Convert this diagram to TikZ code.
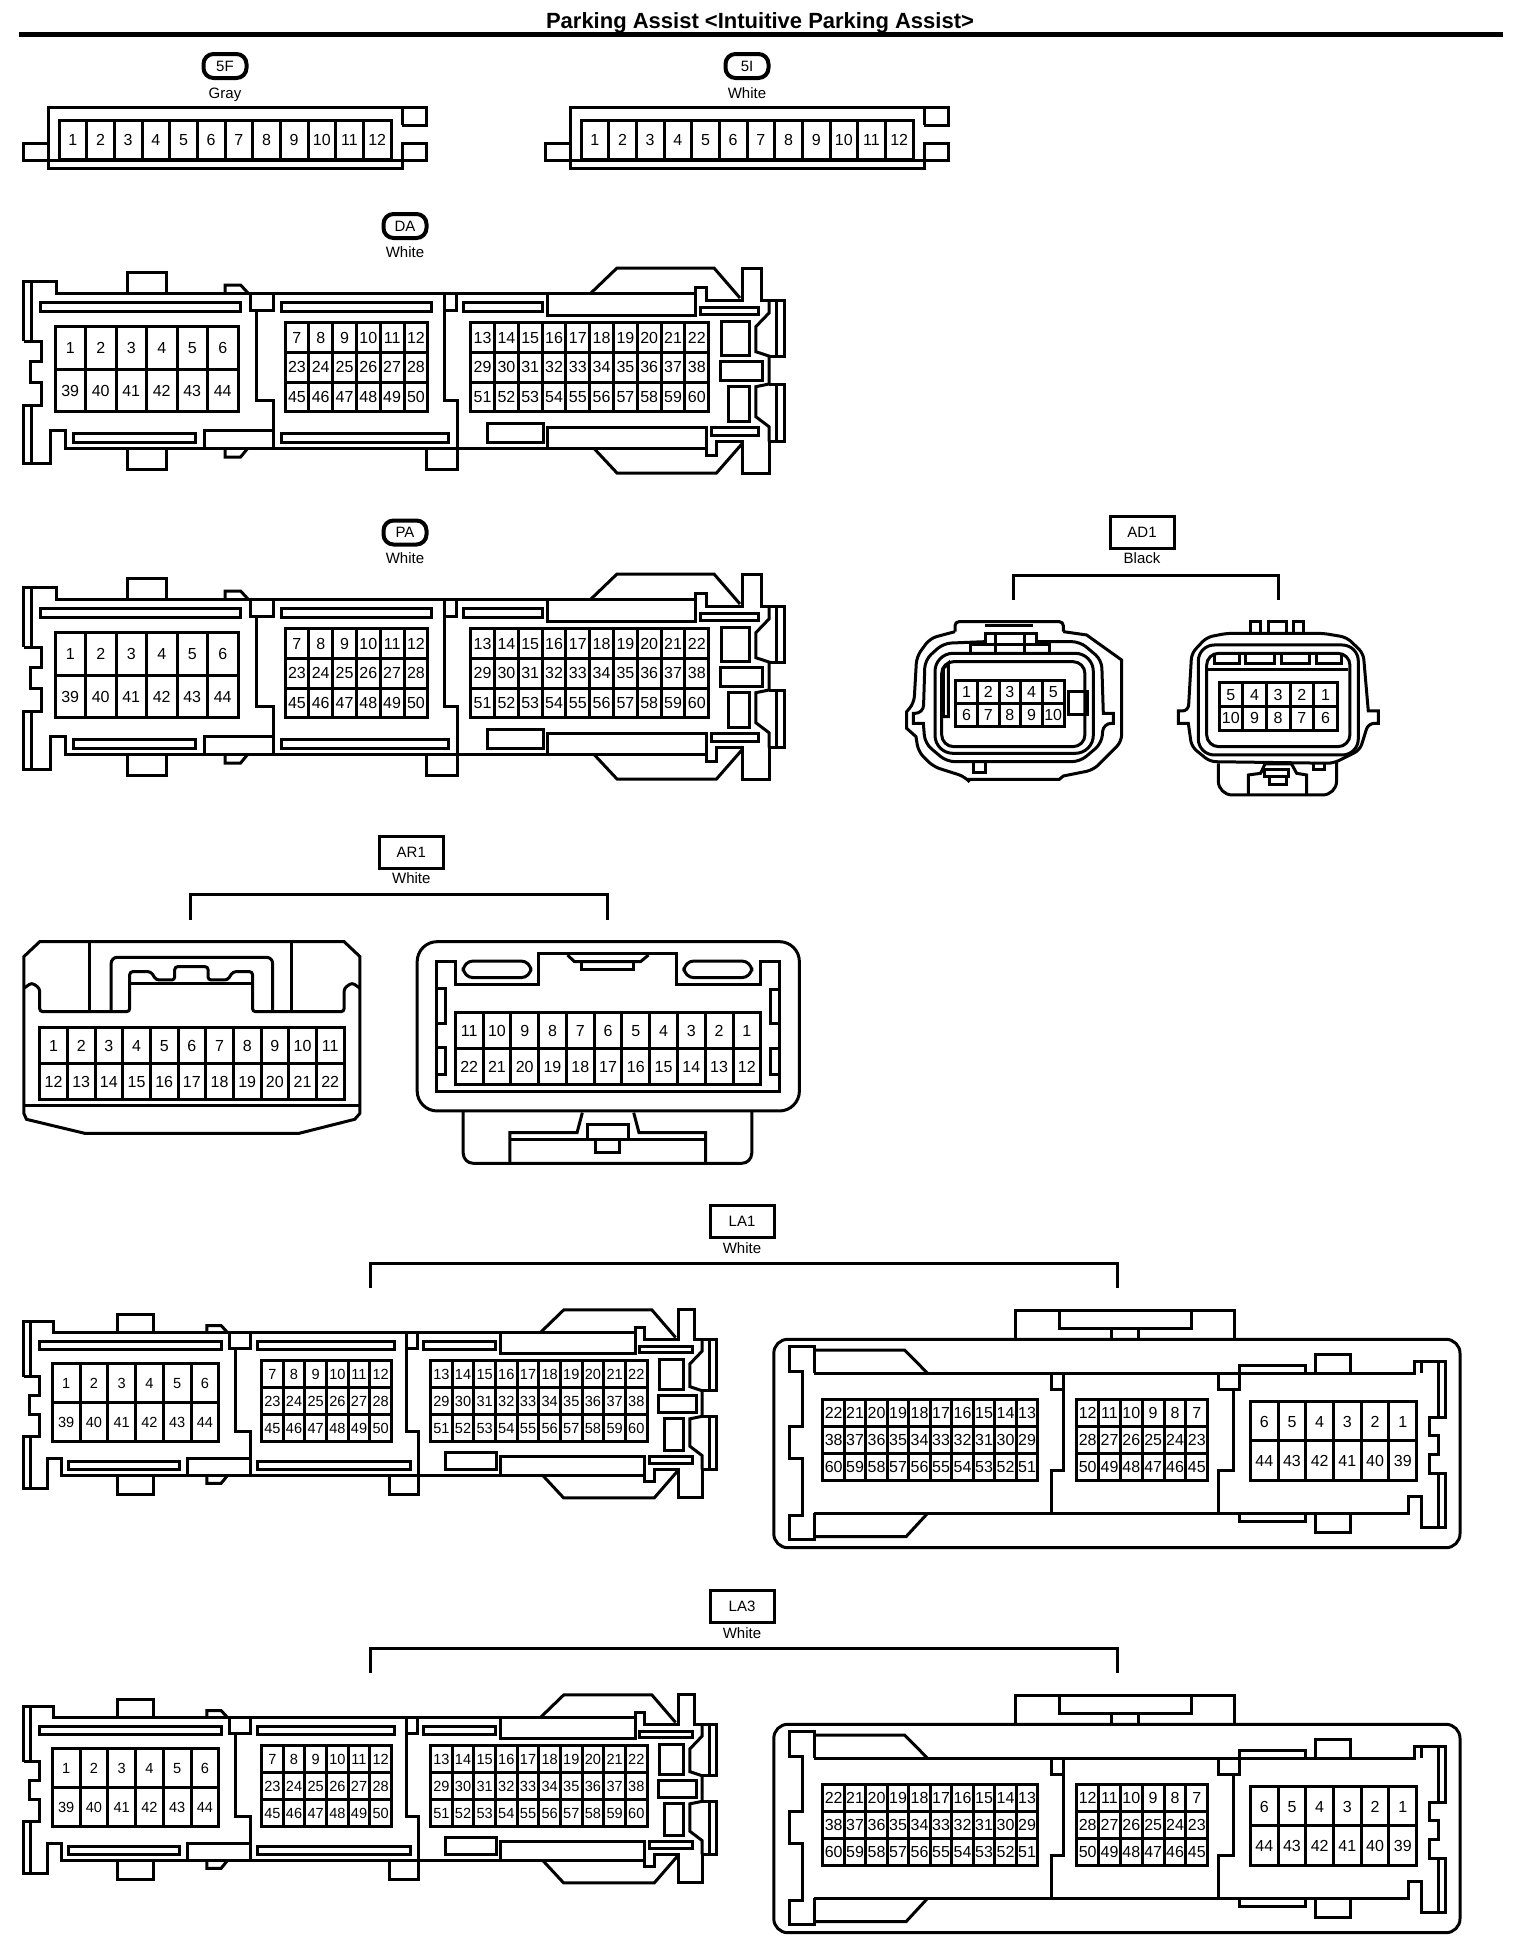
\documentclass[tikz,border=0pt]{standalone}
\usepackage{fontspec}
\setmainfont{Liberation Sans}
\usepackage{tikz}
\usetikzlibrary{positioning, calc}
\tikzset{
    %Define style for pin cells
    pincell/.style={
           rectangle,
           draw=black, line width=3pt,
           inner sep=0pt, outer sep=0pt,
           text height=11.5pt, text depth=0pt,
           font=\fontsize{16}{18}\selectfont},
 %
    pilllabel/.style={
           rectangle,
           rounded corners=10pt,
           draw=black, line width=4pt,
           minimum width=43pt, minimum height=24pt,
           inner sep=0pt,
           font=\fontsize{15}{17}\selectfont},
 %
    boxlabel/.style={
           rectangle,
           draw=black, line width=3pt,
           minimum width=64pt, minimum height=32pt,
           inner sep=0pt,
           font=\fontsize{15}{17}\selectfont},
 %
    colourtext/.style={
           inner sep=0pt,
           text height=11pt, text depth=3pt,
           font=\fontsize{15}{17}\selectfont},
 %
    % coordinate maps for the two hand traced plugs
    admap/.style={shift={(890,510)},x=.3333pt,y=-.3333pt},
    armap/.style={shift={(0,830)},x=.5294pt,y=-.3333pt},
 %
    % Define the long plug with three pin blocks
    ecuplug/.pic={
      \draw (31,281) -- (31,341) (31,405.7) -- (31,463);
      \draw (23.5,341) -- (23.5,281) -- (56.5,281) -- (56.5,293) -- (695.6,293) -- (695.6,287) -- (706,287) -- (706,300.7) -- (742.7,300.7) -- (742.7,268) -- (761,268) -- (761,300.7) -- (784.5,300.7) -- (784.5,356) -- (769,356);
      \draw (23.5,341) -- (41,341) -- (41,361.7) -- (30,361.7) -- (30,382) -- (41,382) -- (41,405.7) -- (23.5,405.7) -- (23.5,463) -- (50,463) -- (50,430) -- (65,430) -- (65,448) -- (706,448) -- (706,455) -- (716.5,455) -- (716.5,441.7) -- (742.7,441.7) -- (742.7,473) -- (769,473) -- (769,441.7) -- (784.5,441.7) -- (784.5,384) -- (769,384);
      % humps and tabs
      \draw (591,293) -- (617,268) -- (714,268) -- (740,298);
      \draw (593.6,448) -- (617,473) -- (716.5,473) -- (742.7,443);
      \draw (127,293) -- (127,272.7) -- (166,272.7) -- (166,293);
      \draw (127,448) -- (127,469.3) -- (166,469.3) -- (166,448);
      \draw (225,293) -- (225,285) -- (240.6,285) -- (248,293);
      \draw (225,448) -- (225,457) -- (240.6,457) -- (248,448);
      \draw (426,448) -- (426,469.3) -- (457.6,469.3) -- (457.6,448);
      % right edge
      \draw (776.7,300.7) -- (776.7,356) (776.7,384) -- (776.7,441.7);
      \draw (769,300.7) -- (769,313) -- (755.8,326.7) -- (755.8,351.7) -- (769,356) -- (769,384) -- (755.8,386.7) -- (755.8,416.7) -- (769,426.7) -- (769,441.7);
      % slots
      \draw (40.8,302.7) rectangle (240.6,311);
      \draw (250,293) rectangle (273,310);
      \draw (281,302.7) rectangle (431.5,311);
      \draw (444.6,293) rectangle (456.6,310);
      \draw (463,302.7) rectangle (542.4,311);
      \draw (547.6,293) rectangle (695.6,315);
      \draw (700.8,307.3) rectangle (758.4,314.3);
      \draw (721.8,321.7) rectangle (749,355);
      \draw (720.7,361.7) rectangle (762.6,380);
      \draw (728,386.7) rectangle (749,421);
      \draw (73,433.3) rectangle (195,442.3);
      \draw (204,430) rectangle (273,448);
      \draw (281,433.3) rectangle (448.7,442.3);
      \draw (487.4,423) rectangle (543,442.3);
      \draw (547.6,427.3) rectangle (706,448);
      \draw (711,427.3) rectangle (758.4,435);
      % dividers
      \draw (256,310) -- (256,400.7) -- (273,400.7) -- (273,448);
      \draw (444.6,310) -- (444.6,400.7) -- (457.6,400.7) -- (457.6,448);
      % pin blocks
      \pingrid{p}{55}{326.7}{30.5}{42.5}{{1,2,3,4,5,6},{39,40,41,42,43,44}}
      \pingrid{p}{285}{322.7}{23.8}{29.67}{{7,8,9,10,11,12},{23,24,25,26,27,28},{45,46,47,48,49,50}}
      \pingrid{p}{470.7}{322.7}{23.8}{29.67}{{13,14,15,16,17,18,19,20,21,22},{29,30,31,32,33,34,35,36,37,38},{51,52,53,54,55,56,57,58,59,60}}
    },
 %
    % Define the wide mating plug, drawn at its place in the first row
    wideplug/.pic={
      \draw[rounded corners=14pt] (773.8,1339.3) rectangle (1460,1547.7);
      \draw (1015.7,1339.3) -- (1015.7,1310) -- (1234.3,1310) -- (1234.3,1339.3);
      \draw (1059.4,1310) -- (1059.4,1328) -- (1191.6,1328) -- (1191.6,1310);
      \draw (1111.2,1328) -- (1111.2,1339.3) (1138.8,1328) -- (1138.8,1339.3);
      \draw (814.2,1373.3) -- (814.2,1346.7) -- (789.8,1346.7) -- (789.8,1371.7) -- (802.2,1371.7) -- (802.2,1426.7) -- (789.8,1426.7) -- (789.8,1458.3) -- (802.2,1458.3) -- (802.2,1515) -- (789.8,1515) -- (789.8,1539.3) -- (814.2,1539.3) -- (814.2,1513.3);
      \draw (814.2,1373.3) -- (1414.3,1373.3) -- (1414.3,1361.7) -- (1445.5,1361.7) -- (1445.5,1417.3) -- (1429.4,1417.3) -- (1429.4,1435) -- (1438.6,1435) -- (1438.6,1454.3) -- (1429.4,1454.3) -- (1429.4,1473.3) -- (1445.5,1473.3) -- (1445.5,1527.3) -- (1421,1527.3) -- (1421,1496.7) -- (1408.8,1496.7) -- (1408.8,1513.3) -- (814.2,1513.3);
      \draw (1421,1361.7) -- (1421,1373.3);
      \draw (1438.6,1361.7) -- (1438.6,1417.3) (1438.6,1473.3) -- (1438.6,1527.3);
      \draw (814.2,1350) -- (904.6,1350) -- (927.6,1373.3);
      \draw (814.2,1536.7) -- (906,1536.7) -- (927.6,1513.3);
      % dividers
      \draw (1051.6,1373.3) -- (1051.6,1389) -- (1063,1389) -- (1063,1373.3);
      \draw (1063,1389) -- (1063,1470) -- (1051.6,1470) -- (1051.6,1513.3);
      \draw (1218.2,1373.3) -- (1218.2,1389) -- (1239.8,1389) -- (1239.8,1373.3);
      \draw (1233.8,1389) -- (1233.8,1470) -- (1218.2,1470) -- (1218.2,1513.3);
      % tabs
      \draw (1239.8,1373.3) -- (1239.8,1365) -- (1305.5,1365) -- (1305.5,1373.3);
      \draw (1315.6,1373.3) -- (1315.6,1354) -- (1350,1354) -- (1350,1373.3);
      \draw (1239.8,1513.3) -- (1239.8,1521.7) -- (1305.5,1521.7) -- (1305.5,1513.3);
      \draw (1315.6,1513.3) -- (1315.6,1532.3) -- (1350,1532.3) -- (1350,1513.3);
      % pin blocks
      \pingrid{p}{822.9}{1399}{21.49}{27}{{22,21,20,19,18,17,16,15,14,13},{38,37,36,35,34,33,32,31,30,29},{60,59,58,57,56,55,54,53,52,51}}
      \pingrid{p}{1076.8}{1399}{21.82}{27}{{12,11,10,9,8,7},{28,27,26,25,24,23},{50,49,48,47,46,45}}
      \pingrid{p}{1250.4}{1401.7}{27.7}{39.15}{{6,5,4,3,2,1},{44,43,42,41,40,39}}
    }
}
% block of pin cells: name, left, top, cell width, cell height, rows
\newcommand{\pingrid}[6]{%
  \foreach \pinrow [count=\r] in {#6}
    \foreach \pin [count=\c] in \pinrow
      \node[pincell, minimum width=#4pt, minimum height=#5pt] (#1\pin) at ({#2+(\c-.5)*#4},{#3+(\r-.5)*#5}) {\pin};
}
\begin{document}
\begin{tikzpicture}[x=1pt,y=-1pt,line width=3pt,line cap=butt]
  \useasboundingbox (0,0) rectangle (1520,1944);
  % title
  \node[inner sep=0pt,font=\fontsize{22}{24}\selectfont\bfseries] (title) at (760,23) {Parking Assist <Intuitive Parking Assist>};
  \coordinate (rulel) at (19,34.5);
  \coordinate (ruler) at (1503,34.5);
  \draw[line width=4.5pt] (rulel) -- (ruler);

  % 5F and 5I
  \node[pilllabel] (lab5F) at (225,66) {5F};
  \node[colourtext] (col5F) at (225,94) {Gray};
  \node[pilllabel] (lab5I) at (747,66) {5I};
  \node[colourtext] (col5I) at (747,94) {White};
  \foreach \nm/\dx in {a/0,b/522}{
    \begin{scope}[xshift=\dx]
      \draw (402,125) -- (426,125) -- (426,107) -- (48,107) -- (48,168) -- (402,168) -- (402,143) -- (426,143) -- (426,160) -- (23,160) -- (23,143) -- (48,143);
      \draw (402,107) -- (402,125);
      \pingrid{\nm}{59}{120}{27.67}{39}{{1,2,3,4,5,6,7,8,9,10,11,12}}
    \end{scope}
  }

  % DA and PA
  \node[pilllabel] (labDA) at (405,226) {DA};
  \node[colourtext] (colDA) at (405,253) {White};
  \pic (da) at (0,0) {ecuplug};
  \node[pilllabel] (labPA) at (405,532.5) {PA};
  \node[colourtext] (colPA) at (405,559.5) {White};
  \pic (pa) at (0,306) {ecuplug};

  % AD1
  \node[boxlabel] (labAD) at (1142,532) {AD1};
  \node[colourtext] (colAD) at (1142,559.5) {Black};
  \coordinate (adl) at (1013.3,600);
  \coordinate (adr) at (1278.3,600);
  \coordinate (adtop) at (1142,575);
  \draw (adl) -- (adl |- adtop) -- (adr |- adtop) -- (adr);
  \begin{scope}[admap]
    % left half
    \draw[rounded corners=4pt] (195,365) -- (195,335) -- (520,335) -- (520,365);
    \draw[rounded corners=7pt] (195,365) -- (120,385) -- (80,440) -- (72,580) [sharp corners] -- (50,605) -- (50,655) -- (78,680) [rounded corners=7pt] -- (85,725) -- (130,770) -- (225,800) [sharp corners] -- (232,808) -- (508,808) -- (520,798) [rounded corners=7pt] -- (610,780) -- (695,695) [sharp corners] -- (695,450) -- (590,375) -- (520,365);
    \draw[rounded corners=8pt] (285,395) -- (160,400) -- (105,450) -- (100,610) [sharp corners] -- (70,610) -- (70,640) -- (100,640) [rounded corners=8pt] -- (105,700) -- (170,755) -- (570,755) -- (635,700) -- (640,640) [sharp corners] -- (670,640) -- (670,610) -- (640,610) [rounded corners=8pt] -- (635,450) -- (570,395) -- (440,395);
    \draw[rounded corners=18pt] (135,430) rectangle (610,730);
    \draw[rounded corners=12pt] (155,455) rectangle (585,710);
    \draw (285,400) -- (285,370) -- (440,370) -- (440,400);
    \draw (240,425) -- (240,403) -- (480,403) -- (480,425);
    \draw (315,375) -- (315,425) (405,375) -- (405,425);
    \draw (285,347) -- (430,347);
    \draw (175,460) -- (160,475) -- (160,620) -- (175,620) -- cycle;
    \draw (535,545) -- (592,545) -- (592,615) -- (535,615) -- cycle;
    \draw (250,755) -- (250,787) -- (285,787) -- (285,755);
    % right half
    \draw[rounded corners=6pt] (1010,370) -- (950,382) -- (905,430) -- (895,603) [sharp corners] -- (865,603) -- (865,640) -- (895,640) [rounded corners=6pt] -- (905,710) -- (960,755) -- (1330,760) -- (1410,720) -- (1435,640) [sharp corners] -- (1465,640) -- (1465,603) -- (1435,603) [rounded corners=6pt] -- (1420,430) -- (1370,382) -- (1300,370) -- cycle;
    \draw[rounded corners=16pt] (925,405) rectangle (1405,735);
    \draw[rounded corners=12pt] (950,430) rectangle (1380,710);
    \draw (955,480) -- (1375,480);
    \draw (975,430) -- (975,460) -- (1050,460) -- (1050,430);
    \draw (1068,430) -- (1068,460) -- (1155,460) -- (1155,430);
    \draw (1175,430) -- (1175,460) -- (1260,460) -- (1260,430);
    \draw (1280,430) -- (1280,460) -- (1355,460) -- (1355,430);
    \draw (1082,370) -- (1082,335) -- (1112,335) -- (1112,370);
    \draw (1137,370) -- (1137,335) -- (1190,335) -- (1190,370);
    \draw (1210,370) -- (1210,335) -- (1242,335) -- (1242,370);
    \draw[rounded corners=14pt] (985,760) -- (985,855) -- (1340,855) -- (1340,755);
    \draw (1270,755) -- (1270,778) -- (1305,778) -- (1305,755);
    \draw (1075,855) -- (1075,795) -- (1112,790) -- (1125,762) -- (1205,762) -- (1220,790) -- (1250,795) -- (1250,855);
    \draw (1125,780) rectangle (1195,800);
    \draw (1140,800) rectangle (1190,825);
  \end{scope}
  \pingrid{adl}{955.7}{680.7}{21.67}{22.67}{{1,2,3,4,5},{6,7,8,9,10}}
  \pingrid{adr}{1219}{682.7}{23.67}{23.67}{{5,4,3,2,1},{10,9,8,7,6}}

  % AR1
  \node[boxlabel] (labAR) at (411.3,852) {AR1};
  \node[colourtext] (colAR) at (411.3,879.5) {White};
  \coordinate (arl) at (190.6,920);
  \coordinate (arr) at (607.7,920);
  \coordinate (artop) at (411.3,894.5);
  \draw (arl) -- (arl |- artop) -- (arr |- artop) -- (arr);
  \begin{scope}[armap]
    % left half
    \draw (45,380) -- (75,335) -- (650,335) -- (680,380) -- (680,850) -- (670,868) -- (565,910) -- (160,910) -- (50,868) -- (45,850) -- cycle;
    \draw (45,828) -- (680,828);
    \draw[rounded corners=3pt] (45,475) -- (60,458) -- (75,475) -- (75,545) -- (245,545) -- (245,425) -- (285,425) -- (295,450) -- (330,450) -- (330,410) -- (393,410) -- (393,450) -- (430,450) -- (440,425) -- (477,425) -- (477,545) -- (650,545) -- (650,475) -- (665,458) -- (680,475);
    \draw (245,460) -- (477,460);
    \draw[rounded corners=6pt] (170,545) -- (170,338) (550,545) -- (550,338);
    \draw[rounded corners=6pt] (210,545) -- (210,382) -- (515,382) -- (515,545);
    % right half
    \draw[rounded corners=20pt] (788,335) rectangle (1510,843);
    \draw[rounded corners=10pt] (875,843) -- (875,1000) -- (1420,1000) -- (1420,843);
    \draw (825,393) -- (860,393) -- (860,465) -- (1018,465) -- (1018,370) -- (1278,370) -- (1278,465) -- (1437,465) -- (1437,393) -- (1473,393) -- (1473,785) -- (825,785) -- cycle;
    \draw[rounded corners=10pt] (875,393) rectangle (1003,443);
    \draw[rounded corners=10pt] (1292,393) rectangle (1420,443);
    \draw (1072,375) -- (1085,395) -- (1210,395) -- (1225,375);
    \draw (1098,395) -- (1098,420) -- (1197,420) -- (1197,395);
    \draw (825,477) rectangle (842,580);
    \draw (825,653) rectangle (842,735);
    \draw (1455,480) rectangle (1473,580);
    \draw (1455,655) rectangle (1473,735);
    \draw (963,1000) -- (963,908) -- (1090,908) -- (1100,848);
    \draw (1333,1000) -- (1333,908) -- (1207,908) -- (1197,848);
    \draw (963,930) -- (1333,930);
    \draw (1110,930) -- (1110,885) -- (1187,885) -- (1187,930);
    \draw (1125,930) rectangle (1170,968);
  \end{scope}
  \pingrid{arl}{39.7}{1027.3}{27.67}{36}{{1,2,3,4,5,6,7,8,9,10,11},{12,13,14,15,16,17,18,19,20,21,22}}
  \pingrid{arr}{455.3}{1012.3}{27.77}{36}{{11,10,9,8,7,6,5,4,3,2,1},{22,21,20,19,18,17,16,15,14,13,12}}

  % LA1 and LA3
  \foreach \nm/\lab/\dy in {lao/LA1/0,lat/LA3/385}{
    \node[boxlabel] (lab\nm) at (742,1221+\dy) {\lab};
    \node[colourtext] (col\nm) at (742,1249+\dy) {White};
    \coordinate (\nm l) at (370,1288+\dy);
    \coordinate (\nm r) at (1117,1288+\dy);
    \coordinate (\nm top) at (742,1263.5+\dy);
    \draw (\nm l) -- (\nm l |- \nm top) -- (\nm r |- \nm top) -- (\nm r);
    \pic[xscale=.91,yscale=.917,transform shape] (\nm a) at (2.2,1064.2+\dy) {ecuplug};
    \pic[font=\fontsize{15}{17}\selectfont] (\nm b) at (0,\dy) {wideplug};
  }
\end{tikzpicture}
\end{document}
